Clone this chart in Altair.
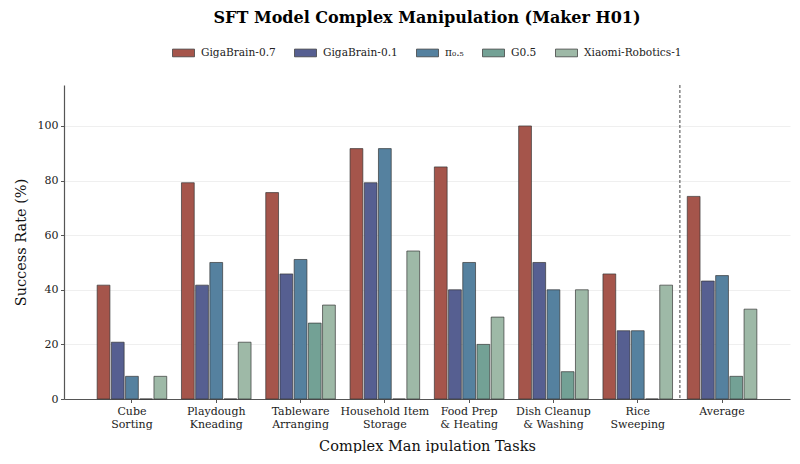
import altair as alt
import pandas as pd

tasks = ["Cube\nSorting", "Playdough\nKneading", "Tableware\nArranging",
         "Household Item\nStorage", "Food Prep\n& Heating", "Dish Cleanup\n& Washing",
         "Rice\nSweeping", "Average"]
models = ["GigaBrain-0.7", "GigaBrain-0.1", "π₀.₅", "G0.5", "Xiaomi-Robotics-1"]
colors = ["#A5554B", "#565F91", "#55819F", "#73A195", "#9EB9A7"]

gigabrain_07 = [41.7, 79.2, 75.6, 91.7, 85.0, 100.0, 45.8, 74.2]
gigabrain_01 = [20.8, 41.7, 45.8, 79.2, 40.0, 50.0, 25.0, 43.2]
pi_05 = [8.3, 50.0, 51.1, 91.7, 50.0, 40.0, 25.0, 45.2]
g_05 = [0.0, 0.0, 27.8, 0.0, 20.0, 10.0, 0.0, 8.3]
xiaomi = [8.3, 20.8, 34.4, 54.2, 30.0, 40.0, 41.7, 32.9]

series = [gigabrain_07, gigabrain_01, pi_05, g_05, xiaomi]
rows = []
for m, vals in zip(models, series):
    for t, v in zip(tasks, vals):
        rows.append({"task": t, "model": m, "value": v})
df = pd.DataFrame(rows)
sep_df = pd.DataFrame({"task": [tasks[-1]]})

FONT = "DejaVu Serif"

x_scale = alt.Scale(domain=tasks, paddingInner=0, paddingOuter=0.306)

bars = alt.Chart(df).mark_bar(
    stroke="#333333", strokeWidth=0.8, strokeOpacity=0.85
).encode(
    x=alt.X("task:N", scale=x_scale, sort=tasks,
            axis=alt.Axis(title="Complex Man ipulation Tasks", labelAngle=0,
                          labelExpr="split(datum.label, '\\n')",
                          labelLineHeight=13, grid=False, titlePadding=10)),
    xOffset=alt.XOffset("model:N", sort=models,
                        scale=alt.Scale(domain=models, paddingInner=0.1, paddingOuter=0.518)),
    y=alt.Y("value:Q", scale=alt.Scale(domain=[0, 115], nice=False),
            axis=alt.Axis(title="Success Rate (%)", values=[0, 20, 40, 60, 80, 100],
                          grid=True, titlePadding=9)),
    fill=alt.Fill("model:N", sort=models,
                  scale=alt.Scale(domain=models, range=colors),
                  legend=alt.Legend(title=None, orient="none", direction="horizontal",
                                    columns=5, legendX=108, legendY=-44,
                                    symbolType="M-1,-0.35L1,-0.35L1,0.35L-1,0.35Z",
                                    symbolSize=484, symbolStrokeColor="#444444",
                                    symbolStrokeWidth=0.8, symbolOpacity=1,
                                    labelFont=FONT, labelFontSize=10.6, labelColor="#222222",
                                    labelOffset=6, columnPadding=16)),
)

sep = alt.Chart(sep_df).mark_rule(
    color="#444444", strokeWidth=1, strokeDash=[3, 2]
).encode(
    x=alt.X("task:N", scale=x_scale, sort=tasks, bandPosition=0)
)

chart = alt.layer(bars, sep).properties(
    width=726, height=314,
    title=alt.TitleParams("SFT Model Complex Manipulation (Maker H01)",
                          font=FONT, fontSize=16, fontWeight="bold",
                          anchor="middle", color="#000000", offset=15),
    autosize=alt.AutoSizeParams(type="none"),
    padding={"left": 56, "top": 77, "right": 2, "bottom": 54},
).configure_view(
    stroke=None
).configure_axis(
    labelFont=FONT, titleFont=FONT, labelFontSize=11, titleFontSize=14.5,
    labelColor="#222222", titleColor="#111111", titleFontWeight="normal",
    domainColor="#555555", domainWidth=1.2, tickColor="#555555", tickSize=3.5,
    tickWidth=1, labelPadding=2.5, gridColor="#ebebeb", gridWidth=0.8
)

chart.save("out.html", embed_options={"renderer": "svg", "actions": False})
